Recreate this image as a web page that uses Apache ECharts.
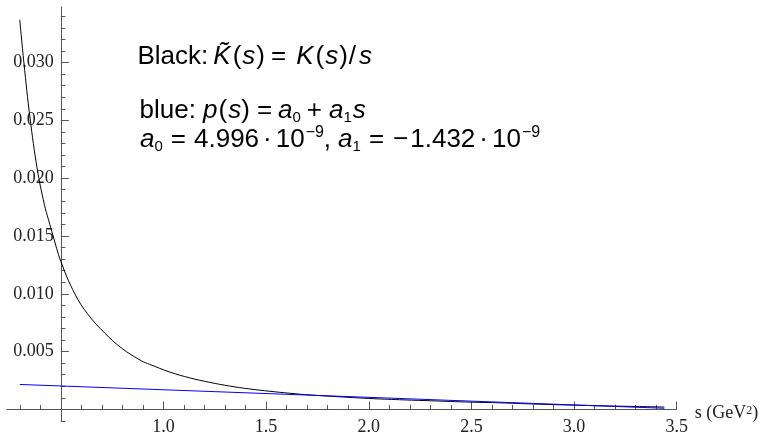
<!DOCTYPE html>
<html>
<head>
<meta charset="utf-8">
<script src="https://cdn.jsdelivr.net/npm/echarts@6/dist/echarts.min.js"></script>
<style>html,body{margin:0;padding:0;background:#fff}#c{width:764px;height:434px}</style>
</head>
<body>
<div id="c"></div>
<script>
// ---- data ----
const blackS = [0.30,0.32,0.35,0.385,0.42,0.44,0.4625,0.50,0.568,0.633,0.714,0.796,0.893,0.933,1.031,1.128,1.226,1.323,1.42,1.518,1.615,1.713,1.85,2.0,2.15,2.3,2.5,2.64,2.8,3.0,3.2,3.44];
const blackK = [0.0337,0.0300,0.0252,0.0208,0.0177,0.0164,0.0150,0.0128,0.0100,0.0082,0.0066,0.0053,0.0042,0.0039,0.00323,0.00273,0.00234,0.00202,0.00177,0.00157,0.00140,0.00125,0.00110,0.00095,0.00084,0.00075,0.00063,0.00057,0.00047,0.00037,0.00029,0.00021];
const blueS = [0.30, 3.44];
const blueP = [0.00216, 0.00010];

const xMajorTicks = [0.5,1.0,1.5,2.0,2.5,3.0,3.5];
const xTickLabels = [1.0,1.5,2.0,2.5,3.0,3.5];
const xMinorTicks = [0.3,0.4,0.6,0.7,0.8,0.9,1.1,1.2,1.3,1.4,1.6,1.7,1.8,1.9,2.1,2.2,2.3,2.4,2.6,2.7,2.8,2.9,3.1,3.2,3.3,3.4];
const yMajorTicks = [0,0.005,0.010,0.015,0.020,0.025,0.030];
const yTickLabels = [0.005,0.010,0.015,0.020,0.025,0.030];
const yMinorTicks = [-0.001,0.001,0.002,0.003,0.004,0.006,0.007,0.008,0.009,0.011,0.012,0.013,0.014,0.016,0.017,0.018,0.019,0.021,0.022,0.023,0.024,0.026,0.027,0.028,0.029,0.031,0.032,0.033,0.034];

const xMin = 0.2363, xMax = 3.5, yMin = -0.001, yMax = 0.0348;
const gridLeft = 6.7, gridTop = 7, gridW = 670, gridH = 414;
const yAxisAt = 0.5, xAxisAt = 0;
const yOffset = -(yAxisAt - xMin) / (xMax - xMin) * gridW;
const xOffset = -(xAxisAt - yMin) / (yMax - yMin) * gridH;

const axisColor = '#555';
const labelFont = {fontFamily: 'Liberation Serif', fontSize: 18, color: '#222'};

const chart = echarts.init(document.getElementById('c'), null, {renderer: 'canvas'});

const sans = 'Liberation Sans';
const FS = 26;
function richStyles(color) {
  const r = {};
  for (let p = 0; p <= 20; p++) {
    r['n' + p] = {fontFamily: sans, fontSize: FS, lineHeight: 30, color: color, padding: [0, 0, 0, p]};
    r['i' + p] = {fontFamily: sans, fontSize: FS, lineHeight: 30, color: color, fontStyle: 'italic', padding: [0, 0, 0, p]};
    r['sub' + p] = {fontFamily: sans, fontSize: 15, lineHeight: 21, color: color, verticalAlign: 'bottom', padding: [0, 0, 0, p]};
    r['sup' + p] = {fontFamily: sans, fontSize: 16, lineHeight: 20, color: color, verticalAlign: 'top', padding: [0, 0, 0, p]};
  }
  r.n = r.n0; r.i = r.i0; r.sub = r.sub0; r.sup = r.sup0;
  return r;
}

const line1 = '{n|Black:}{i5|K\u0303}{n2|(}{i1|s}{n1|)}{n6|=}{i10|K}{n2|(}{i1|s}{n1|)}{n1|/}{i3|s}';
const line2 = '{n|blue: }{i0|p}{n1|(}{i1|s}{n0|)}{n7|=}{i6|a}{sub0|0}{n6|+}{i7|a}{sub|1}{i1|s}';
const line3 = '{i|a}{sub|0}{n8|=}{n8|4.996}{n4|\u00b7}{n4|10}{sup1|\u22129}{n0|,}{i7|a}{sub|1}{n8|=}{n9|\u2212}{n2|1.432}{n4|\u00b7}{n4|10}{sup1|\u22129}';

chart.setOption({
  animation: false,
  backgroundColor: '#fff',
  grid: {left: gridLeft, top: gridTop, width: gridW, height: gridH, containLabel: false, outerBoundsMode: 'none'},
  xAxis: [
    {
      type: 'value', min: xMin, max: xMax, position: 'bottom', offset: xOffset,
      axisLine: {show: true, onZero: false, lineStyle: {color: axisColor, width: 1}},
      axisTick: {show: true, inside: true, length: 8, customValues: xMajorTicks, lineStyle: {color: axisColor, width: 1}},
      axisLabel: {show: true, customValues: xTickLabels, formatter: v => v.toFixed(1), margin: 9, ...labelFont},
      splitLine: {show: false},
      name: 's (GeV{sup|2})', nameLocation: 'end', nameGap: 18,
      nameTextStyle: {fontFamily: 'Liberation Serif', fontSize: 18, color: '#222', padding: [8,0,0,0],
        rich: {sup: {fontFamily: 'Liberation Serif', fontSize: 12, lineHeight: 14, verticalAlign: 'top', color: '#222'}}}
    },
    {
      type: 'value', min: xMin, max: xMax, position: 'bottom', offset: xOffset,
      axisLine: {show: false, onZero: false},
      axisTick: {show: true, inside: true, length: 4.5, customValues: xMinorTicks, lineStyle: {color: axisColor, width: 1}},
      axisLabel: {show: false},
      splitLine: {show: false}
    }
  ],
  yAxis: [
    {
      type: 'value', min: yMin, max: yMax, position: 'left', offset: yOffset,
      axisLine: {show: true, onZero: false, lineStyle: {color: axisColor, width: 1}},
      axisTick: {show: true, inside: true, length: 8, customValues: yMajorTicks, lineStyle: {color: axisColor, width: 1}},
      axisLabel: {show: true, customValues: yTickLabels, formatter: v => v.toFixed(3), margin: 7, ...labelFont},
      splitLine: {show: false}
    },
    {
      type: 'value', min: yMin, max: yMax, position: 'left', offset: yOffset,
      axisLine: {show: false, onZero: false},
      axisTick: {show: true, inside: true, length: 4.5, customValues: yMinorTicks, lineStyle: {color: axisColor, width: 1}},
      axisLabel: {show: false},
      splitLine: {show: false}
    }
  ],
  series: [
    {
      type: 'line', xAxisIndex: 0, yAxisIndex: 0,
      data: blackS.map((s, k) => [s, blackK[k]]),
      showSymbol: false, smooth: 0.4,
      lineStyle: {color: '#000', width: 1}
    },
    {
      type: 'line', xAxisIndex: 0, yAxisIndex: 0,
      data: blueS.map((s, k) => [s, blueP[k]]),
      showSymbol: false,
      lineStyle: {color: '#0000ff', width: 1}
    }
  ],
  graphic: [
    {type: 'text', x: 137.5, y: 41.6, style: {text: line1, rich: richStyles('#000')}},
    {type: 'text', x: 139.5, y: 95.6, style: {text: line2, rich: richStyles('#0000ff')}},
    {type: 'text', x: 140, y: 124.6, style: {text: line3, rich: richStyles('#0000ff')}}
  ]
});
</script>
</body>
</html>
